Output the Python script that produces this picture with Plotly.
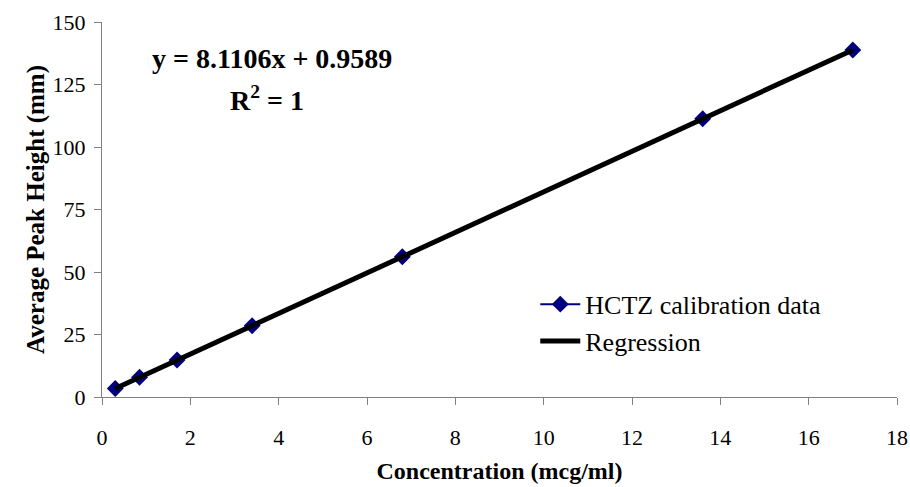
import plotly.graph_objects as go

# HCTZ calibration standards (concentration in mcg/ml vs. average peak height in mm)
concentration = [0.3, 0.85, 1.7, 3.4, 6.8, 13.6, 17.0]
peak_height = [3.4, 7.9, 14.8, 28.5, 56.1, 111.3, 138.8]

# Least-squares fit reported on the chart
slope = 8.1106
intercept = 0.9589
r_squared = 1

x_ticks = [0, 2, 4, 6, 8, 10, 12, 14, 16, 18]
y_ticks = [0, 25, 50, 75, 100, 125, 150]

fit_x = [min(concentration), max(concentration)]
fit_y = [slope * v + intercept for v in fit_x]

SERIF = "Liberation Serif"
AXIS_GREY = "#808080"

fig = go.Figure()
fig.add_trace(go.Scatter(
    x=concentration, y=peak_height, mode="lines+markers",
    name="HCTZ calibration data",
    line=dict(color="#000080", width=2),
    marker=dict(symbol="diamond", size=13, color="#000080"),
))
fig.add_trace(go.Scatter(
    x=fit_x, y=fit_y, mode="lines", name="Regression",
    line=dict(color="black", width=5),
))

fig.add_annotation(
    x=3.86, y=135.6, xref="x", yref="y", showarrow=False,
    text=f"<b>y = {slope}x + {intercept}</b>",
    font=dict(family=SERIF, size=28, color="black"),
)
fig.add_annotation(
    x=3.74, y=119.5, xref="x", yref="y", showarrow=False,
    text=f"<b>R<sup>2</sup> = {r_squared}</b>",
    font=dict(family=SERIF, size=28, color="black"),
)

fig.update_layout(
    width=910, height=487,
    margin=dict(l=102, r=13, t=22, b=90, autoexpand=False),
    paper_bgcolor="white", plot_bgcolor="white",
    font=dict(family=SERIF, size=22, color="black"),
    showlegend=True,
    legend=dict(
        x=0.545, y=0.31, xanchor="left", yanchor="top",
        bgcolor="rgba(0,0,0,0)", borderwidth=0,
        font=dict(family=SERIF, size=26, color="black"),
        tracegroupgap=0, itemwidth=40,
    ),
    xaxis=dict(
        range=[0, 18], tickvals=x_ticks, ticktext=[str(t) for t in x_ticks],
        showgrid=False, zeroline=False, automargin=False,
        showline=True, linecolor=AXIS_GREY, linewidth=1,
        ticks="outside", ticklen=7, tickcolor=AXIS_GREY,
        ticklabelstandoff=14,
        title=dict(text="<b>Concentration (mcg/ml)</b>",
                   font=dict(family=SERIF, size=24), standoff=12),
    ),
    yaxis=dict(
        range=[0, 150], tickvals=y_ticks, ticktext=[str(t) for t in y_ticks],
        showgrid=False, zeroline=False, automargin=False,
        showline=True, linecolor=AXIS_GREY, linewidth=1,
        ticks="outside", ticklen=7, tickcolor=AXIS_GREY,
        ticklabelstandoff=4,
        title=dict(text="<b>Average Peak Height (mm)</b>",
                   font=dict(family=SERIF, size=25), standoff=0),
    ),
)

fig.write_html("out.html")
